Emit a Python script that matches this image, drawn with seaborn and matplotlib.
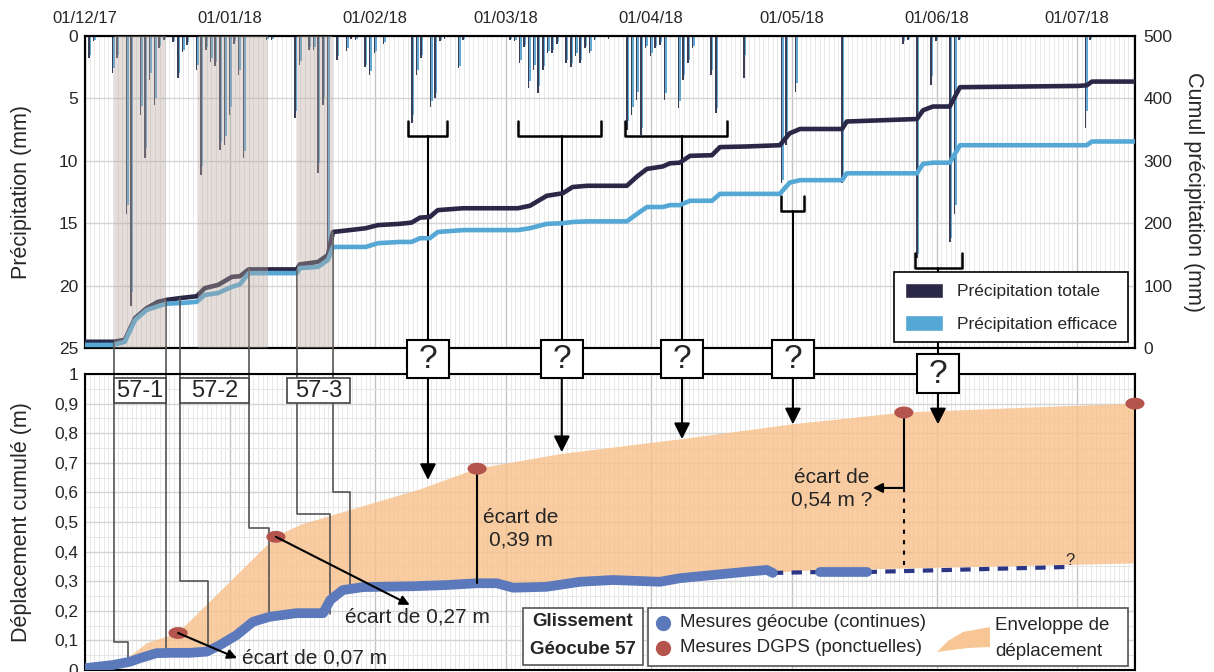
import numpy as np
import matplotlib
matplotlib.use("Agg")
import matplotlib.pyplot as plt
import seaborn as sns
from matplotlib.patches import Rectangle, Patch, Polygon
from matplotlib.lines import Line2D
from matplotlib.path import Path

# ---------------------------------------------------------------- data
# x axis = days since 01/12/2017
month_days = [0, 31, 62, 90, 121, 151, 182, 212]
month_labels = ["01/12/17", "01/01/18", "01/02/18", "01/03/18",
                "01/04/18", "01/05/18", "01/06/18", "01/07/18"]

# daily rainfall (mm)
rain_days = [0, 1, 2, 6, 7, 9, 10, 12, 13, 14, 15, 16, 17, 19, 20, 21, 22, 24, 25, 26,
             27, 28, 29, 30, 31, 32, 33, 34, 39, 40, 45, 46, 48, 49, 50, 51, 52, 54, 56, 57,
             58, 60, 61, 62, 64, 70, 71, 72, 74, 75, 76, 77, 80, 81, 91, 92, 93, 94, 95, 96,
             97, 98, 99, 100, 101, 103, 104, 105, 106, 107, 108, 109, 112, 116, 117, 118, 119, 120, 121, 122,
             123, 124, 127, 128, 129, 130, 134, 135, 141, 149, 150, 152, 162, 175, 176, 178, 181, 182, 185, 186,
             187, 214, 215]
rain_total = [5.9, 1.8, 0.4, 3.0, 1.8, 14.3, 21.6, 6.3, 9.8, 3.5, 5.5, 1.0, 0.3, 0.5, 3.4, 1.3, 0.7, 2.7, 11.1, 1.1,
              2.1, 2.4, 9.1, 8.7, 6.3, 0.6, 3.1, 9.8, 0.3, 0.3, 6.6, 2.3, 1.1, 1.1, 11.0, 5.5, 18.2, 1.9, 1.2, 0.2,
              0.3, 2.5, 3.1, 1.4, 0.6, 7.0, 3.1, 1.8, 5.7, 5.0, 0.4, 0.2, 2.6, 0.3, 0.3, 0.4, 2.2, 0.9, 4.2, 2.7,
              4.6, 2.7, 1.4, 1.4, 0.6, 2.2, 2.5, 1.6, 2.2, 1.0, 1.4, 0.3, 0.2, 7.5, 6.3, 5.1, 7.9, 1.0, 1.6, 1.0,
              0.7, 5.1, 5.8, 3.5, 2.2, 1.0, 3.1, 6.2, 3.4, 11.8, 8.7, 4.5, 11.8, 0.6, 0.3, 17.8, 3.9, 0.4, 16.5, 14.3,
              0.3, 7.4, 0.3]
rain_eff = [5.0, 1.5, 0.3, 2.6, 1.5, 13.5, 20.5, 5.6, 9.0, 3.0, 5.0, 0.8, 0.2, 0.4, 3.0, 1.1, 0.5, 2.3, 10.4, 0.9,
            1.8, 2.1, 8.5, 8.0, 5.7, 0.4, 2.7, 9.2, 0.2, 0.2, 6.0, 2.0, 0.9, 0.9, 10.2, 5.0, 17.0, 1.6, 1.0, 0.1,
            0.2, 2.3, 2.8, 1.2, 0.5, 6.3, 2.7, 1.5, 5.2, 4.6, 0.3, 0.1, 2.4, 0.2, 0.2, 0.3, 1.9, 0.7, 3.6, 2.3,
            4.0, 2.4, 1.2, 1.1, 0.5, 1.9, 2.2, 1.4, 1.9, 0.8, 1.2, 0.2, 0.1, 6.8, 5.7, 4.5, 7.4, 0.8, 1.4, 0.8,
            0.5, 4.6, 5.2, 3.1, 1.9, 0.8, 2.7, 5.8, 1.5, 11.5, 8.0, 3.8, 11.3, 0.4, 0.2, 17.5, 3.2, 0.3, 16.2, 13.5,
            0.2, 6.0, 0.2]

# cumulative rainfall (mm)
cum_days = [0, 6.0, 8.5, 10.7, 13.2, 15.6, 17.3, 20.3, 23.9, 25.6, 28.4, 31.4, 33.1, 35.0, 45.3,
            45.9, 49.8, 51.9, 53.0, 56.6, 60.0, 62.6, 67.3, 69.8, 71.6, 73.7, 75.4, 80.8, 92.5, 95.1,
            98.7, 102.1, 104.2, 107.3, 115.8, 118.0, 120.1, 123.5, 125.0, 127.1, 129.3, 134.0, 135.7, 141.5, 148.5,
            150.6, 152.8, 161.8, 162.8, 177.8, 179.1, 181.2, 184.8, 187.0, 212.2, 214.1, 215.2, 224.4]
cum_total = [10, 10, 13, 48, 64, 74, 77, 80, 83, 96, 101, 114, 115, 126, 126,
             134, 138, 149, 186, 189, 192, 197, 199, 201, 209, 210, 221, 224, 224, 228,
             244, 248, 258, 260, 260, 275, 287, 291, 296, 297, 308, 309, 322, 323, 325,
             344, 351, 351, 363, 367, 381, 387, 387, 418, 420, 421, 427, 427]
cum_eff = [5, 5, 10, 45, 61, 67, 71, 72, 74, 85, 88, 98, 102, 120, 120,
           128, 130, 141, 162, 162, 162, 168, 170, 170, 176, 176, 186, 189, 189, 192,
           199, 200, 202, 203, 203, 215, 226, 226, 229, 229, 236, 236, 247, 247, 247,
           265, 269, 269, 280, 280, 295, 297, 297, 325, 325, 325, 331, 331]

# geocube displacement (m)
geo_days = [0, 0.4, 6.0, 9.6, 11.8, 15.3, 18.8, 22.4, 26.0, 28.8, 32.4, 35.9, 39.5, 45.2, 50.9, 52.4,
            55.1, 59.4, 70.1, 77.3, 83.7, 88.0, 91.5, 98.6, 105.8, 112.8, 122.9, 127.1, 134.2, 141.4, 145.7, 147.0]
geo_disp = [0.004, 0.007, 0.017, 0.028, 0.04, 0.057, 0.058, 0.058, 0.062, 0.084, 0.118, 0.163, 0.18, 0.192, 0.192, 0.236,
            0.27, 0.28, 0.283, 0.287, 0.293, 0.293, 0.278, 0.281, 0.298, 0.304, 0.298, 0.31, 0.321, 0.332, 0.338, 0.328]
geo2_days = [157.1, 167.1]
geo2_disp = [0.331, 0.331]
gap_days = [147.0, 157.1, 167.1, 209.8]
gap_disp = [0.328, 0.331, 0.331, 0.348]

# DGPS points (m)
dgps_days = [19.9, 40.8, 83.8, 175.0, 224.4]
dgps_disp = [0.125, 0.45, 0.68, 0.87, 0.90]

# displacement envelope
env_up_days = [0, 6.8, 9.6, 13.2, 19.9, 40.8, 46.0, 56.6, 71.6, 83.8, 101.9, 127.6, 151.3, 175.0, 224.4]
env_up = [0.0, 0.017, 0.045, 0.09, 0.125, 0.45, 0.49, 0.54, 0.61, 0.68, 0.73, 0.78, 0.83, 0.87, 0.90]
env_low_days = [152.8, 224.4]
env_low = [0.335, 0.36]

# rainy periods 57-1, 57-2, 57-3
wet_start = [6.2, 24.1, 45.3]
wet_end = [17.3, 39.1, 53.0]

# "?" episodes : bracket (start, end), centre and arrow tip
q_start = [69.0, 92.5, 115.4, 148.7, 177.4]
q_end = [77.4, 110.3, 137.2, 153.6, 187.4]
q_centre = [73.3, 101.9, 127.6, 151.3, 182.3]
q_bracket_mm = [8.0, 8.0, 8.0, 14.0, 18.6]
q_tip = [0.642, 0.736, 0.78, 0.83, 0.83]

# ---------------------------------------------------------------- style
sns.set_theme(style="white")
plt.rcParams["font.family"] = ["Liberation Sans", "DejaVu Sans"]

C_TOT = "#2a2846"
C_EFF = "#55a8d6"
C_GEO = "#5b79bb"
C_DGPS = "#b5544c"
C_ENV = "#f8c08a"
C_BAND = "#b8a89e"
C_LINK = "#555555"

fig = plt.figure(figsize=(12.14, 6.72), dpi=100)
ax1 = fig.add_axes([0.0700, 0.4821, 0.8649, 0.4643])
ax1r = ax1.twinx()
ax2 = fig.add_axes([0.0700, 0.00298, 0.8649, 0.4405])

XMAX = 224.4
for ax in (ax1, ax2):
    ax.set_xlim(0, XMAX)
    ax.set_xticks(month_days)
    ax.set_xticks(np.arange(0, XMAX, 1), minor=True)
    ax.grid(which="minor", axis="x", color="#e4e4e4", lw=0.6)
    ax.grid(which="major", axis="x", color="#c4c4c4", lw=1.0)
    ax.set_axisbelow(True)
    for s in ax.spines.values():
        s.set_color("black")
        s.set_linewidth(1.5)

# ---------------------------------------------------------------- top panel
ax1.set_ylim(25, 0)
ax1.set_yticks([0, 5, 10, 15, 20, 25])
ax1.grid(which="major", axis="y", color="#d4d4d4", lw=1.0)
ax1.bar(np.array(rain_days) - 0.16, rain_total, width=0.32, color="#3a3f57", lw=0, zorder=2)
ax1.bar(np.array(rain_days) + 0.16, rain_eff, width=0.32, color="#64a9d4", lw=0, zorder=2)
ax1.set_xticklabels(month_labels)
ax1.tick_params(axis="x", which="both", top=True, bottom=False, labeltop=True,
                labelbottom=False, length=0, pad=7, labelsize=12)
ax1.tick_params(axis="y", length=0, pad=5, labelsize=12.5)
ax1.set_ylabel("Précipitation (mm)", fontsize=15.5)
ax1.yaxis.set_label_coords(-0.05, 0.5)

ax1r.set_ylim(0, 500)
ax1r.set_yticks([0, 100, 200, 300, 400, 500])
ax1r.grid(False)
ax1r.tick_params(axis="y", length=0, pad=6, labelsize=12.5)
for s in ax1r.spines.values():
    s.set_color("black")
    s.set_linewidth(1.5)
sns.lineplot(x=cum_days, y=cum_total, ax=ax1r, color=C_TOT, lw=3.3, zorder=3)
sns.lineplot(x=cum_days, y=cum_eff, ax=ax1r, color=C_EFF, lw=3.3, zorder=3)
ax1r.set_ylabel("Cumul précipitation (mm)", fontsize=15.5, rotation=270)
ax1r.yaxis.set_label_coords(1.066, 0.5)
for a, b in zip(wet_start, wet_end):
    ax1r.axvspan(a, b, color=C_BAND, alpha=0.38, lw=0, zorder=5)

# link lines from rainy periods down to the displacement panel
link_x = [6.2, 17.3, 20.3, 35.0, 45.3, 53.0]
link_cum = [10, 77, 80, 126, 126, 186]
for x, c in zip(link_x, link_cum):
    ax1r.plot([x, x], [c, 0], color=C_LINK, lw=1.2, zorder=4)

# brackets over "?" episodes
for a, b, m, mm in zip(q_start, q_end, q_centre, q_bracket_mm):
    ax1.plot([a, a, b, b], [mm - 1.2, mm, mm, mm - 1.2], color="black", lw=1.8, zorder=6)
    ax1.plot([m, m], [mm, 25], color="black", lw=1.5, zorder=6, clip_on=False)

leg = ax1r.legend(handles=[Patch(facecolor=C_TOT), Patch(facecolor=C_EFF)],
                  labels=["Précipitation totale", "Précipitation efficace"],
                  loc="lower right", bbox_to_anchor=(0.993, 0.019), frameon=True,
                  fancybox=False, edgecolor="black", framealpha=1, fontsize=12.5,
                  handlelength=2.2, handleheight=1.0, labelspacing=0.9, borderpad=0.6,
                  borderaxespad=0)
leg.get_frame().set_linewidth(1.2)
leg.set_zorder(20)

# ---------------------------------------------------------------- bottom panel
ax2.set_ylim(0, 1)
ax2.set_yticks(np.arange(0, 1.01, 0.1))
ax2.set_yticklabels(["0", "0,1", "0,2", "0,3", "0,4", "0,5", "0,6", "0,7", "0,8", "0,9", "1"])
ax2.set_yticks(np.arange(0.05, 1, 0.1), minor=True)
ax2.grid(which="major", axis="y", color="#d4d4d4", lw=1.0)
ax2.grid(which="minor", axis="y", color="#e6e6e6", lw=0.7)
ax2.tick_params(axis="x", which="both", length=0, labelbottom=False)
ax2.tick_params(axis="y", which="both", length=0, pad=5, labelsize=12.5)
ax2.set_ylabel("Déplacement cumulé (m)", fontsize=15.5)
ax2.yaxis.set_label_coords(-0.05, 0.5)

env_x = list(env_up_days) + list(env_low_days[::-1]) + list(geo_days[::-1])
env_y = list(env_up) + list(env_low[::-1]) + list(geo_disp[::-1])
ax2.fill(env_x, env_y, color=C_ENV, alpha=0.8, lw=0, zorder=1)

sns.lineplot(x=gap_days, y=gap_disp, ax=ax2, color="#2b3585", lw=3, ls=(0, (2.5, 2)), zorder=3)
sns.lineplot(x=geo_days, y=geo_disp, ax=ax2, color=C_GEO, lw=7,
             solid_capstyle="round", solid_joinstyle="round", zorder=4)
sns.lineplot(x=geo2_days, y=geo2_disp, ax=ax2, color=C_GEO, lw=7,
             solid_capstyle="round", zorder=4)

t = np.linspace(0, 2 * np.pi, 40)
ell = Path(np.column_stack([np.cos(t), 0.62 * np.sin(t)]), closed=True)
sns.scatterplot(x=dgps_days, y=dgps_disp, ax=ax2, marker=ell, s=190, color=C_DGPS,
                edgecolor="none", zorder=7, clip_on=False)

# link lines (continued)
links = [([6.2, 6.2, 9.2, 9.2], [1.09, 0.096, 0.096, 0.024]),
         ([17.3, 17.3], [1.09, 0.062]),
         ([20.3, 20.3, 26.3, 26.3], [1.09, 0.30, 0.30, 0.085]),
         ([35.0, 35.0, 39.3, 39.3], [1.09, 0.48, 0.48, 0.18]),
         ([45.3, 45.3, 52.4, 52.4], [1.09, 0.527, 0.527, 0.19]),
         ([53.0, 53.0, 56.6, 56.6], [1.09, 0.60, 0.60, 0.277])]
for xs, ys in links:
    ax2.plot(xs, ys, color=C_LINK, lw=1.2, zorder=2, clip_on=False)

# period labels
for a, b, lab in [(6.2, 17.3, "57-1"), (20.3, 35.0, "57-2"), (43.2, 56.6, "57-3")]:
    ax2.add_patch(Rectangle((a, 0.902), b - a, 0.084, facecolor="white", edgecolor="#444444",
                            lw=1.2, zorder=8, clip_on=False))
    ax2.text((a + b) / 2, 0.944, lab, ha="center", va="center", fontsize=17, zorder=9)

# "?" boxes and arrows
for i, m in enumerate(q_centre):
    y0 = 0.986 if i < 4 else 0.936
    ax2.annotate("", xy=(m, q_tip[i]), xytext=(m, y0),
                 arrowprops=dict(arrowstyle="-|>", color="black", lw=1.5,
                                 mutation_scale=24, shrinkA=0, shrinkB=0),
                 annotation_clip=False, zorder=9)
    ax2.add_patch(Rectangle((m - 4.5, y0), 9, 0.13, facecolor="white", edgecolor="black",
                            lw=1.5, zorder=10, clip_on=False))
    ax2.text(m, y0 + 0.063, "?", ha="center", va="center", fontsize=24, zorder=11)
ax2.plot([182.3, 182.3], [1.09, 1.066], color="black", lw=1.5, clip_on=False)

# gaps between geocube and DGPS
arrow_kw = dict(arrowstyle="-|>", color="black", lw=1.5, mutation_scale=14, shrinkA=0, shrinkB=0)
ax2.annotate("", xy=(32.5, 0.04), xytext=(19.9, 0.125), arrowprops=arrow_kw, zorder=8)
ax2.text(33.5, 0.042, "écart de 0,07 m", ha="left", va="center", fontsize=15, zorder=8)
ax2.annotate("", xy=(69.4, 0.22), xytext=(40.8, 0.45), arrowprops=arrow_kw, zorder=8)
ax2.text(55.6, 0.18, "écart de 0,27 m", ha="left", va="center", fontsize=15, zorder=8)
ax2.plot([83.8, 83.8], [0.68, 0.293], color="black", lw=1.5, zorder=6)
ax2.text(93.2, 0.478, "écart de\n0,39 m", ha="center", va="center", fontsize=15,
         linespacing=1.25, zorder=8)
ax2.plot([175.0, 175.0], [0.87, 0.615], color="black", lw=1.5, zorder=6)
ax2.plot([175.0, 175.0], [0.615, 0.355], color="black", lw=1.5, ls=(0, (2, 3)), zorder=6)
ax2.annotate("", xy=(168.4, 0.615), xytext=(175.0, 0.615), arrowprops=arrow_kw, zorder=8)
ax2.text(159.6, 0.613, "écart de\n0,54 m ?", ha="center", va="center", fontsize=15,
         linespacing=1.25, zorder=8)
ax2.text(210.5, 0.37, "?", ha="center", va="center", fontsize=12, zorder=8)

# bottom legend, built by hand in axes fraction
def bpx(x, y):
    return ((x - 85) / 1050, (670 - y) / 296)

tr = ax2.transAxes
ax2.add_patch(Rectangle(bpx(523, 665), 120 / 1050, 57 / 296, transform=tr, facecolor="white",
                        edgecolor="#555555", lw=1.2, zorder=12))
ax2.text(*bpx(583, 622), "Glissement", transform=tr, ha="center", va="center",
         fontsize=13.5, fontweight="bold", zorder=13)
ax2.text(*bpx(583, 650), "Géocube 57", transform=tr, ha="center", va="center",
         fontsize=13.5, fontweight="bold", zorder=13)
ax2.add_patch(Rectangle(bpx(648, 666), 480 / 1050, 58 / 296, transform=tr, facecolor="white",
                        edgecolor="#555555", lw=1.2, zorder=12))
ax2.add_line(Line2D([bpx(663, 0)[0]], [bpx(0, 623)[1]], transform=tr, marker="o", ms=10,
                    color=C_GEO, zorder=13))
ax2.add_line(Line2D([bpx(663, 0)[0]], [bpx(0, 648)[1]], transform=tr, marker="o", ms=10,
                    color=C_DGPS, zorder=13))
ax2.text(*bpx(680, 623), "Mesures géocube (continues)", transform=tr, ha="left",
         va="center", fontsize=13.5, zorder=13)
ax2.text(*bpx(680, 648), "Mesures DGPS (ponctuelles)", transform=tr, ha="left",
         va="center", fontsize=13.5, zorder=13)
swoosh = [bpx(937, 652), bpx(948, 641), bpx(963, 632), bpx(990, 627), bpx(990, 647),
          bpx(968, 648), bpx(952, 650)]
ax2.add_patch(Polygon(swoosh, closed=True, transform=tr, facecolor=C_ENV, alpha=0.9,
                      lw=0, zorder=13))
ax2.text(*bpx(995, 626), "Enveloppe de", transform=tr, ha="left", va="center",
         fontsize=13.5, zorder=13)
ax2.text(*bpx(995, 652), "déplacement", transform=tr, ha="left", va="center",
         fontsize=13.5, zorder=13)

fig.savefig("out.png", dpi=100)
